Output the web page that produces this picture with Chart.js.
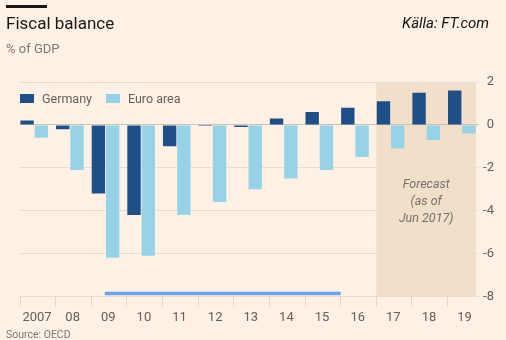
<!DOCTYPE html>
<html>
<head>
<meta charset="utf-8">
<script src="https://cdn.jsdelivr.net/npm/chart.js@4"></script>
<style>
  html, body { margin: 0; padding: 0; }
  body { width: 506px; height: 340px; background: #fff1e5; position: relative; overflow: hidden;
         font-family: Roboto, "Noto Sans", sans-serif; }
  #chartBox { position: absolute; left: 0; top: 0; width: 506px; height: 340px; }
  .rule { position: absolute; left: 6px; top: 5px; width: 41px; height: 3px; background: #1a1817; }
  .title { position: absolute; left: 6px; top: 13px; font-size: 17px; color: #1a1817; }
  .subtitle { position: absolute; left: 6px; top: 41px; font-size: 13px; color: #7f7771; }
  .credit { position: absolute; left: 402px; top: 14px; font-size: 15px; font-style: italic; color: #111; }
  .source { position: absolute; left: 6px; top: 328px; font-size: 10.5px; color: #7f7771; }
  .legend { position: absolute; left: 20px; top: 91px; font-size: 12.5px; color: #66605c; display: flex; }
  .legend span { display: flex; align-items: center; margin-right: 14px; }
  .legend i { display: inline-block; width: 14px; height: 9px; margin-right: 8px; }
</style>
</head>
<body>
<div id="chartBox"><canvas id="fiscalChart"></canvas></div>
<div class="rule"></div>
<div class="title">Fiscal balance</div>
<div class="subtitle">% of GDP</div>
<div class="credit">Källa: FT.com</div>
<div class="legend" id="legend"></div>
<div class="source">Source: OECD</div>
<script>
const years = ['2007', '08', '09', '10', '11', '12', '13', '14', '15', '16', '17', '18', '19'];
const germany = [0.2, -0.2, -3.2, -4.2, -1.0, -0.05, -0.1, 0.3, 0.6, 0.8, 1.1, 1.5, 1.6];
const euroArea = [-0.6, -2.1, -6.2, -6.1, -4.2, -3.6, -3.0, -2.5, -2.1, -1.5, -1.1, -0.7, -0.4];
const forecastFrom = '17';
const forecastNote = ['Forecast', '(as of', 'Jun 2017)'];
const markerSpan = [1.98, 8.6];
const markerLevel = -7.87;

const colors = { germany: '#1e4f87', euro: '#96d3e7', band: '#f2dfca', grid: '#eadccf', zero: '#cdc1b6', text: '#66605c', marker: '#6aa3ef' };
const groupWidth = 0.8;

// legend sits inside the plot, so build it as plain html
document.getElementById('legend').innerHTML =
    `<span><i style="background:${colors.germany}"></i>Germany</span>` +
    `<span><i style="background:${colors.euro}"></i>Euro area</span>`;

const forecastBand = {
    id: 'forecastBand',
    beforeDraw(chart) {
        const { ctx, chartArea, scales } = chart;
        const x0 = scales.x.getPixelForValue(years.indexOf(forecastFrom) - groupWidth / 2);
        ctx.save();
        ctx.fillStyle = colors.band;
        ctx.fillRect(x0, chartArea.top, chartArea.right - x0, chartArea.bottom - chartArea.top);
        ctx.restore();
    },
    afterDatasetsDraw(chart) {
        const { ctx, chartArea, scales } = chart;
        const x0 = scales.x.getPixelForValue(years.indexOf(forecastFrom) - groupWidth / 2);
        const cx = (x0 + chartArea.right) / 2;
        const cy = scales.y.getPixelForValue(-3.6);
        ctx.save();
        ctx.fillStyle = '#77706a';
        ctx.font = 'italic 12.5px Roboto, "Noto Sans", sans-serif';
        ctx.textAlign = 'center';
        ctx.textBaseline = 'middle';
        forecastNote.forEach((line, i) => {
            ctx.fillText(line, cx, cy + (i - 1) * 17);
        });
        ctx.restore();
    }
};

const ctx = document.getElementById('fiscalChart').getContext('2d');
new Chart(ctx, {
    type: 'bar',
    data: {
        datasets: [
            {
                label: 'Germany',
                data: germany.map((v, i) => ({ x: i, y: v })),
                backgroundColor: colors.germany,
                categoryPercentage: groupWidth,
                barPercentage: 0.94
            },
            {
                label: 'Euro area',
                data: euroArea.map((v, i) => ({ x: i, y: v })),
                backgroundColor: colors.euro,
                categoryPercentage: groupWidth,
                barPercentage: 0.94
            },
            {
                type: 'line',
                label: 'marker',
                data: markerSpan.map(x => ({ x: x, y: markerLevel })),
                borderColor: colors.marker,
                borderWidth: 3.5,
                pointRadius: 0,
                borderCapStyle: 'butt'
            }
        ]
    },
    options: {
        responsive: true,
        maintainAspectRatio: false,
        animation: false,
        layout: { padding: { left: 20, right: 12, top: 82, bottom: 10 } },
        plugins: { legend: { display: false }, tooltip: { enabled: false } },
        scales: {
            x: {
                type: 'linear',
                offset: false,
                min: -groupWidth / 2,
                max: years.length - 1 + groupWidth / 2,
                afterBuildTicks: scale => {
                    // ticks sit on the group boundaries
                    scale.ticks = years.map((_, i) => ({ value: i - groupWidth / 2 }));
                },
                grid: { drawOnChartArea: false, tickLength: 10, color: '#e2d5c9', offset: false },
                border: { display: false },
                ticks: {
                    callback: (value, index) => years[index],
                    labelOffset: 17,
                    autoSkip: false,
                    maxRotation: 0,
                    padding: 4,
                    color: colors.text,
                    font: { family: 'Roboto', size: 13 }
                }
            },
            y: {
                position: 'right',
                min: -8,
                max: 2,
                ticks: {
                    stepSize: 2,
                    crossAlign: 'far',
                    padding: 2,
                    color: colors.text,
                    font: { family: 'Roboto', size: 13 }
                },
                grid: {
                    tickLength: 3,
                    color: c => (c.tick && c.tick.value === 0 ? colors.zero : colors.grid)
                },
                border: { display: false }
            }
        }
    },
    plugins: [forecastBand]
});
</script>
</body>
</html>
